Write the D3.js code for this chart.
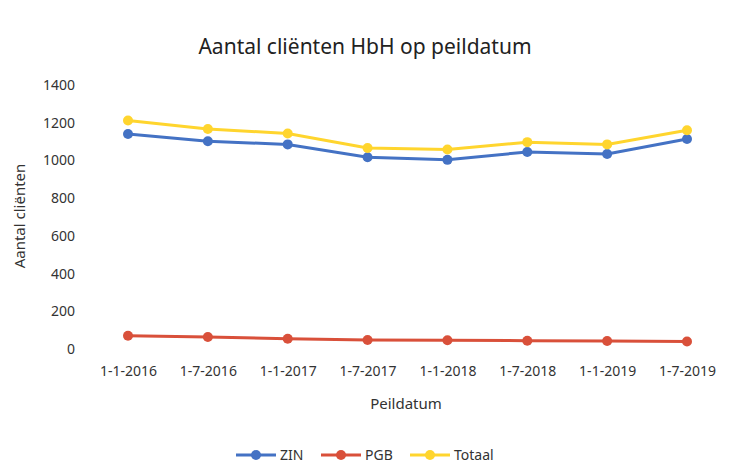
<script src="https://d3js.org/d3.v7.min.js"></script>
<body style="margin:0;background:#fff"></body>
<script>
  // data
  var dates = ["1-1-2016", "1-7-2016", "1-1-2017", "1-7-2017", "1-1-2018", "1-7-2018", "1-1-2019", "1-7-2019"];
  var zin = [1140, 1102, 1085, 1017, 1003, 1045, 1034, 1114];
  var pgb = [70, 64, 54, 48, 46, 44, 42, 40];
  var totaal = [1212, 1167, 1143, 1066, 1058, 1097, 1085, 1160];
  var yTicks = [0, 200, 400, 600, 800, 1000, 1200, 1400];

  var series = [
    {name: "ZIN", values: zin, color: "#4472C4"},
    {name: "PGB", values: pgb, color: "#D9503A"},
    {name: "Totaal", values: totaal, color: "#FFD52E"}
  ];

  var width = 742, height = 463;
  var font = "'Noto Sans', sans-serif";

  var svg = d3.select("body").append("svg")
    .attr("width", width)
    .attr("height", height)
    .style("font-family", font);

  var x = d3.scalePoint().domain(dates).range([128, 687]);
  var y = d3.scaleLinear().domain([0, 1400]).range([349, 85]);

  // title
  svg.append("text")
    .attr("x", 365).attr("y", 54)
    .attr("text-anchor", "middle")
    .style("font-size", "21px")
    .style("fill", "#222")
    .text("Aantal cliënten HbH op peildatum");

  // y axis (labels only)
  var yAxis = svg.append("g")
    .attr("transform", "translate(75,0)")
    .call(d3.axisLeft(y).tickValues(yTicks).tickFormat(d3.format("d")).tickSize(0).tickPadding(0));
  yAxis.select(".domain").remove();
  yAxis.selectAll("text").style("font-size", "14px").style("font-family", font).style("fill", "#333");

  // x axis (labels only)
  var xAxis = svg.append("g")
    .attr("transform", "translate(0,366)")
    .call(d3.axisBottom(x).tickSize(0).tickPadding(0));
  xAxis.select(".domain").remove();
  xAxis.selectAll("text").style("font-size", "14px").style("font-family", font).style("fill", "#333");

  // axis titles
  svg.append("text")
    .attr("transform", "translate(25,216) rotate(-90)")
    .attr("text-anchor", "middle")
    .style("font-size", "15px")
    .style("fill", "#333")
    .text("Aantal cliënten");

  svg.append("text")
    .attr("x", 406).attr("y", 409)
    .attr("text-anchor", "middle")
    .style("font-size", "15px")
    .style("fill", "#333")
    .text("Peildatum");

  // lines and markers
  var line = d3.line()
    .x(function(d, i) { return x(dates[i]); })
    .y(function(d) { return y(d); });

  series.forEach(function(s) {
    svg.append("path")
      .datum(s.values)
      .attr("d", line)
      .attr("fill", "none")
      .attr("stroke", s.color)
      .attr("stroke-width", 3);

    svg.selectAll(null)
      .data(s.values)
      .enter().append("circle")
      .attr("cx", function(d, i) { return x(dates[i]); })
      .attr("cy", function(d) { return y(d); })
      .attr("r", 5)
      .attr("fill", s.color);
  });

  // legend
  var legendX = [236, 321, 410];
  var legend = svg.selectAll(".legend")
    .data(series)
    .enter().append("g")
    .attr("class", "legend")
    .attr("transform", function(d, i) { return "translate(" + legendX[i] + ",455)"; });

  legend.append("line")
    .attr("x1", 0).attr("x2", 40)
    .attr("stroke", function(d) { return d.color; })
    .attr("stroke-width", 3);
  legend.append("circle")
    .attr("cx", 20).attr("r", 5)
    .attr("fill", function(d) { return d.color; });
  legend.append("text")
    .attr("x", 44).attr("y", 5)
    .style("font-size", "14px")
    .style("fill", "#333")
    .text(function(d) { return d.name; });
</script>
